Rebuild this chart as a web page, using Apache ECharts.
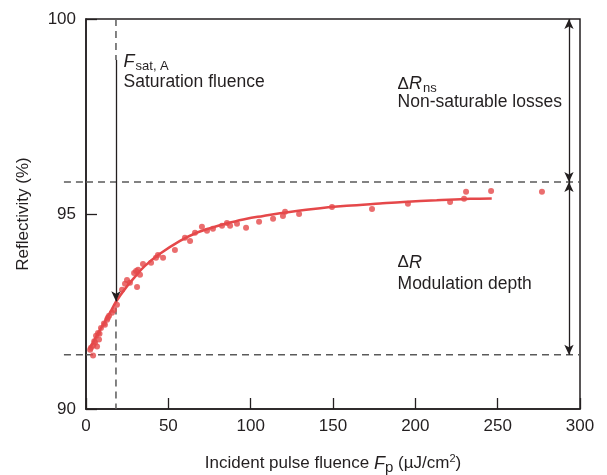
<!DOCTYPE html>
<html>
<head>
<meta charset="utf-8">
<script src="https://cdn.jsdelivr.net/npm/echarts@6/dist/echarts.min.js"></script>
<style>
html,body{margin:0;padding:0;background:#ffffff;}
#chart{width:607px;height:475px;}
</style>
</head>
<body>
<div id="chart"></div>
<script>
// ---- data ----
const measuredFluence = [4.3, 3.0, 4.3, 5.5, 6.7, 7.9, 6.1, 7.3, 9.1, 10.9,
  12.8, 14.0, 15.8, 17.0, 18.8, 21.9, 23.7, 24.9, 26.7, 29.2,
  30.4, 31.6, 32.8, 31.0, 34.6, 39.5, 42.5, 43.7, 46.8, 54.0,
  60.1, 63.2, 66.2, 70.4, 73.5, 77.1, 82.6, 85.6, 87.5, 91.7,
  97.2, 105.1, 113.6, 119.6, 120.9, 129.4, 149.4, 173.7, 195.5, 221.1,
  229.6, 230.8, 246.0, 276.9, 2.5, 5.0, 8.2, 11.5, 13.3];
const measuredReflectivity = [91.37, 91.57, 91.62, 91.70, 91.60, 91.78, 91.88, 91.95, 92.08, 92.19,
  92.29, 92.39, 92.47, 92.54, 92.67, 93.06, 93.21, 93.31, 93.24, 93.49,
  93.54, 93.57, 93.44, 93.13, 93.72, 93.75, 93.88, 93.95, 93.88, 94.08,
  94.39, 94.31, 94.52, 94.67, 94.57, 94.62, 94.70, 94.77, 94.70, 94.75,
  94.65, 94.80, 94.88, 94.95, 95.06, 95.00, 95.18, 95.13, 95.26, 95.31,
  95.39, 95.57, 95.59, 95.57, 91.52, 91.74, 91.93, 92.16, 92.34];

const fitFluence = [2.4, 8.5, 14.6, 18.2, 23.7, 29.8, 35.8, 44.9, 57.1, 67.2, 77.3,
  87.5, 97.6, 107.7, 117.8, 138.0, 158.3, 178.5, 192.7, 213.0, 233.2, 246.4];
const fitReflectivity = [91.57, 92.03, 92.47, 92.75, 93.08, 93.39, 93.67, 93.98, 94.31, 94.52, 94.66,
  94.78, 94.88, 94.95, 95.02, 95.13, 95.21, 95.27, 95.31, 95.35, 95.39, 95.40];

const saturationFluence = 18.2;       // F_sat,A
const nonSaturableLevel = 95.82;      // upper dashed level
const modulationBottom = 91.39;       // lower dashed level
const bracketFluence = 293.3;         // position of the ΔR brackets
const dashedLeftStart = -13.4;        // dashed levels start left of the axis
const fSatSolidTop = 98.95;
const fSatArrowTip = 92.76;
const fSatDashBottomStart = 92.6;

const xTickLabels = ['0', '50', '100', '150', '200', '250', '300'];
const yTickLabels = ['90', '95', '100'];

// ---- styles ----
const FONT = '"Liberation Sans", Arial, Helvetica, sans-serif';
const INK = '#231f20';
const RED = '#e5484a';
const DASH = '#5a5a5a';

const measured = measuredFluence.map((f, i) => [f, measuredReflectivity[i]]);
const fit = fitFluence.map((f, i) => [f, fitReflectivity[i]]);

const richText = {
  i:   {fontStyle: 'italic', fontSize: 18, fontFamily: FONT, color: INK},
  d:   {fontSize: 17, fontFamily: FONT, color: INK},
  sub: {fontSize: 13, fontFamily: FONT, color: INK, padding: [9, 0, 0, 1]},
  n:   {fontSize: 17.5, fontFamily: FONT, color: INK}
};

function dashedSeries(points) {
  return {
    type: 'line', data: points, clip: false, silent: true, symbol: 'none',
    lineStyle: {color: DASH, width: 1.5, type: [7, 5]}, z: 1, animation: false
  };
}

const chart = echarts.init(document.getElementById('chart'), null, {renderer: 'canvas'});
chart.setOption({
  animation: false,
  backgroundColor: '#ffffff',
  grid: {left: 86, right: 27, top: 19, bottom: 66, show: true, borderColor: INK, borderWidth: 1.5,
         backgroundColor: 'transparent', containLabel: false, outerBoundsMode: 'none'},
  xAxis: {
    type: 'value', min: 0, max: 300, interval: 50,
    axisLine: {lineStyle: {color: INK, width: 1.5}},
    axisTick: {inside: true, length: 11, lineStyle: {color: INK, width: 1.3}},
    axisLabel: {color: INK, fontSize: 17, fontFamily: FONT, margin: 9,
      formatter: v => xTickLabels[Math.round(v / 50)]},
    splitLine: {show: false},
    name: 'Incident pulse fluence {i|F}{sub|p} (µJ/cm{sup|2})',
    nameLocation: 'middle', nameGap: 43,
    nameTextStyle: {color: INK, fontSize: 17, fontFamily: FONT,
      rich: {
        i: {fontStyle: 'italic', fontSize: 18, fontFamily: FONT, color: INK},
        sub: {fontSize: 15, fontFamily: FONT, color: INK, padding: [8, 0, 0, 0]},
        sup: {fontSize: 11, fontFamily: FONT, color: INK, padding: [0, 0, 9, 0]}
      }}
  },
  yAxis: {
    type: 'value', min: 90, max: 100, interval: 5,
    axisLine: {lineStyle: {color: INK, width: 1.5}},
    axisTick: {inside: true, length: 11, lineStyle: {color: INK, width: 1.3}},
    axisLabel: {color: INK, fontSize: 17, fontFamily: FONT, margin: 10,
      formatter: v => yTickLabels[Math.round((v - 90) / 5)]},
    splitLine: {show: false},
    name: 'Reflectivity (%)', nameLocation: 'middle', nameGap: 54,
    nameTextStyle: {color: INK, fontSize: 17, fontFamily: FONT}
  },
  series: [
    dashedSeries([[0, nonSaturableLevel], [300, nonSaturableLevel]]),
    dashedSeries([[0, modulationBottom], [300, modulationBottom]]),
    dashedSeries([[saturationFluence, 100], [saturationFluence, fSatSolidTop]]),
    Object.assign(dashedSeries([[saturationFluence, fSatDashBottomStart], [saturationFluence, 90]]), {
      markLine: {
        silent: true, animation: false,
        symbol: ['none', 'arrow'], symbolSize: [7, 10],
        lineStyle: {color: INK, width: 1.3, type: 'solid'},
        label: {show: false},
        emphasis: {disabled: true},
        data: [
          [{coord: [saturationFluence, fSatSolidTop]}, {coord: [saturationFluence, fSatArrowTip]}],
          [{coord: [bracketFluence, 100], symbol: 'arrow'}, {coord: [bracketFluence, nonSaturableLevel], symbol: 'arrow'}],
          [{coord: [bracketFluence, nonSaturableLevel], symbol: 'arrow'}, {coord: [bracketFluence, modulationBottom], symbol: 'arrow'}]
        ]
      },
      markPoint: {
        silent: true, animation: false,
        symbol: 'circle', symbolSize: 1, itemStyle: {color: 'rgba(0,0,0,0)'},
        label: {show: true, position: 'right', distance: 0, color: INK, fontFamily: FONT, fontSize: 17.5, rich: richText},
        data: [
          {coord: [22.5, 98.9], label: {formatter: '{i|F}{sub|sat, A}'}},
          {coord: [22.5, 98.39], label: {formatter: '{n|Saturation fluence}'}},
          {coord: [188.9, 98.33], label: {formatter: '{d|Δ}{i|R}{sub|ns}'}},
          {coord: [188.9, 97.87], label: {formatter: '{n|Non-saturable losses}'}},
          {coord: [188.9, 93.75], label: {formatter: '{d|Δ}{i|R}'}},
          {coord: [188.9, 93.21], label: {formatter: '{n|Modulation depth}'}}
        ]
      }
    }),
    {
      type: 'scatter', data: measured, symbolSize: 6, z: 3,
      itemStyle: {color: RED}, silent: true
    },
    {
      type: 'line', data: fit, smooth: 0.35, showSymbol: false, symbol: 'none', z: 4,
      lineStyle: {color: RED, width: 2.5}, silent: true
    }
  ]
});

// dashed level lines continue to the left of the y axis (outside the grid)
function leftStub(level) {
  const a = chart.convertToPixel({gridIndex: 0}, [dashedLeftStart, level]);
  const b = chart.convertToPixel({gridIndex: 0}, [0, level]);
  return {
    type: 'line', silent: true, z: 1,
    shape: {x1: a[0], y1: a[1], x2: b[0], y2: b[1]},
    style: {stroke: DASH, lineWidth: 1.5, lineDash: [7, 5]}
  };
}
chart.setOption({graphic: [leftStub(nonSaturableLevel), leftStub(modulationBottom)]});
</script>
</body>
</html>
